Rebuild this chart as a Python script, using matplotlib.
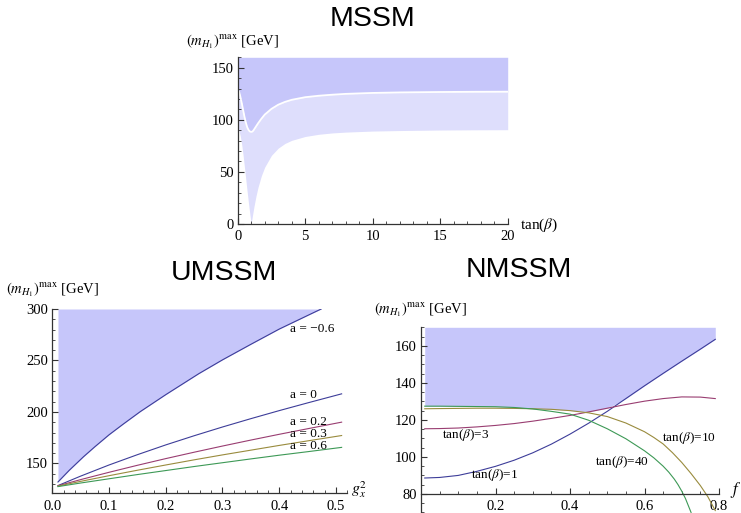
import numpy as np
import matplotlib
matplotlib.use("Agg")
import matplotlib.pyplot as plt
from matplotlib.ticker import MultipleLocator, FixedLocator, FormatStrFormatter

plt.rcParams['font.family'] = ['Liberation Serif', 'DejaVu Serif']
plt.rcParams['mathtext.fontset'] = 'stix'

# ---------------- data ----------------
# MSSM panel
mssm_tanb = [0, 0.1, 0.2, 0.3, 0.4, 0.5, 0.6, 0.7, 0.8, 0.9, 1.0, 1.1, 1.2, 1.35,
             1.5, 1.75, 2.0, 2.5, 3, 3.5, 4, 5, 6, 7, 8, 10, 12, 15, 17.5, 20]
mssm_upper = [128.5, 127, 122, 116, 109.5, 103, 97.5, 93, 90.3, 88.8, 88.4, 88.8, 90.5, 93.5,
              96.5, 101, 105, 110.5, 114.5, 117.2, 119.2, 121.7, 123.1, 124.1, 124.9, 125.8,
              126.3, 126.7, 126.9, 127]
mssm_lower = [91, 89.2, 84, 76, 65.9, 54.6, 42.8, 31.2, 20, 9.6, 0, 8.6, 16.4, 26.5,
              35, 46.2, 54.6, 65.9, 72.8, 77.3, 80.3, 84, 86.1, 87.4, 88.2, 89.2,
              89.7, 90.2, 90.4, 90.5]
mssm_top = 160

# UMSSM panel
umssm_gx_m06 = [0.01, 0.03, 0.055, 0.075, 0.1, 0.125, 0.155, 0.2, 0.23, 0.258, 0.3, 0.35,
                0.4, 0.45, 0.474]
umssm_a_m06 = [132, 143.4, 156.5, 166.2, 177.8, 188.2, 200.3, 216.8, 227.3, 237.1, 250.6,
               265.7, 280.5, 293.7, 300]
umssm_gx = [0.01, 0.05, 0.1, 0.15, 0.2, 0.25, 0.3, 0.35, 0.4, 0.45, 0.51]
umssm_a_0 = [128.5, 137.7, 148.5, 158.5, 168, 176.9, 185.4, 193.5, 201.3, 208.8, 217.6]
umssm_a_02 = [128.3, 134.3, 141.4, 148.2, 154.7, 160.9, 166.9, 172.7, 178.3, 183.7, 190.1]
umssm_a_03 = [128.0, 132.6, 138.1, 143.4, 148.5, 153.5, 158.3, 162.9, 167.5, 171.9, 177.1]
umssm_a_06 = [127.5, 131.0, 135.1, 139.2, 143.1, 147.0, 150.7, 154.4, 158.0, 161.4, 165.6]
umssm_labels = ['a = \u22120.6', 'a = 0', 'a = 0.2', 'a = 0.3', 'a = 0.6']
umssm_top = 300

# NMSSM panel
nmssm_f = [0.01, 0.05, 0.1, 0.15, 0.2, 0.25, 0.3, 0.35, 0.4, 0.45, 0.5, 0.55, 0.6,
           0.65, 0.7, 0.75, 0.79]
nmssm_tb1 = [88.6, 88.9, 90, 92.2, 94.9, 98.2, 102.2, 106.9, 112.3, 118.2, 124.6, 131.5,
             138.4, 145.1, 151.7, 158.2, 163.5]
nmssm_tb3 = [115.2, 115.3, 115.6, 116.2, 117, 118, 119.3, 120.8, 122.4, 124.3, 126.3,
             128.3, 130.1, 131.5, 132.4, 132.3, 131.5]
nmssm_f_tb10 = [0.01, 0.05, 0.1, 0.15, 0.2, 0.25, 0.3, 0.35, 0.4, 0.45, 0.5, 0.55, 0.6,
                0.625, 0.65, 0.675, 0.7, 0.725, 0.75, 0.77, 0.79]
nmssm_tb10 = [126.0, 126.1, 126.2, 126.3, 126.3, 126.2, 126.0, 125.7, 125.0, 123.8, 121.8,
              118.3, 113.6, 110.5, 107, 102.3, 97, 91, 84.5, 78.5, 71]
nmssm_f_tb40 = [0.01, 0.05, 0.1, 0.15, 0.2, 0.25, 0.3, 0.35, 0.4, 0.45, 0.5, 0.55, 0.6,
                0.625, 0.65, 0.665, 0.68, 0.69, 0.7, 0.71, 0.725]
nmssm_tb40 = [127.4, 127.4, 127.3, 127.2, 127.1, 126.7, 125.9, 124.6, 123.1, 119.8, 115.2,
              109.8, 103.3, 99.5, 95, 91.8, 88, 85, 81.5, 77.5, 70]
nmssm_top = 170

titles = ['MSSM', 'UMSSM', 'NMSSM']
ylabel_txt = r'$(m_{H_1})^{\rm max}$ [GeV]'

# ---------------- style ----------------
W, H = 741, 513
FILL = '#C6C6FA'
FILL_LIGHT = '#DEDEFC'
C_NAVY = '#3D3D99'
C_MAG = '#993D71'
C_GOLD = '#998B3D'
C_GREEN = '#3D9956'
AX = '#333333'

fig = plt.figure(figsize=(W / 100, H / 100), dpi=100)


def rect(x0, y_top, x1, y_bot):
    return [x0 / W, 1 - y_bot / H, (x1 - x0) / W, (y_bot - y_top) / H]


def px(x, y):
    return x / W, 1 - y / H


def style(ax):
    for s in ['top', 'right']:
        ax.spines[s].set_visible(False)
    for s in ['left', 'bottom']:
        ax.spines[s].set_color(AX)
        ax.spines[s].set_linewidth(0.9)
    ax.tick_params(which='both', direction='in', colors=AX, labelcolor='black',
                   labelsize=10.5, top=False, right=False)
    ax.tick_params(which='major', length=4, width=0.8, pad=3)
    ax.tick_params(axis='x', which='major', pad=4.5)
    ax.tick_params(which='minor', length=2.2, width=0.6)
    ax.set_facecolor('none')


# ---- MSSM ----
ax1 = fig.add_axes(rect(237.7, 57.3, 507.7, 224))
ax1.fill_between(mssm_tanb, mssm_upper, mssm_top, color=FILL, lw=0)
ax1.fill_between(mssm_tanb, mssm_lower, mssm_upper, color=FILL_LIGHT, lw=0)
ax1.plot(mssm_tanb, mssm_upper, color='white', lw=1.3)
ax1.set_xlim(0, 20)
ax1.set_ylim(0, 160)
ax1.xaxis.set_major_locator(FixedLocator([0, 5, 10, 15, 20]))
ax1.xaxis.set_minor_locator(MultipleLocator(1))
ax1.yaxis.set_major_locator(FixedLocator([0, 50, 100, 150]))
ax1.yaxis.set_minor_locator(MultipleLocator(10))
style(ax1)
fig.text(*px(520, 225), r'tan($\beta$)', fontsize=11, ha='left', va='center')
fig.text(*px(186, 42), ylabel_txt, fontsize=10.5, ha='left', va='center')
fig.text(*px(373, 19), titles[0], fontsize=20.5, family='Liberation Sans', ha='center', va='center')

# ---- UMSSM ----
ax2 = fig.add_axes(rect(52.3, 309, 347.3, 493.3))
ax2.fill_between(umssm_gx_m06, umssm_a_m06, umssm_top, color=FILL, lw=0)
ax2.plot(umssm_gx_m06, umssm_a_m06, color=C_NAVY, lw=0.8)
ax2.plot(umssm_gx, umssm_a_0, color=C_NAVY, lw=0.8)
ax2.plot(umssm_gx, umssm_a_02, color=C_MAG, lw=0.8)
ax2.plot(umssm_gx, umssm_a_03, color=C_GOLD, lw=0.8)
ax2.plot(umssm_gx, umssm_a_06, color=C_GREEN, lw=0.8)
ax2.set_xlim(0, 0.52)
ax2.set_ylim(121, 300)
ax2.xaxis.set_major_locator(FixedLocator([0.0, 0.1, 0.2, 0.3, 0.4, 0.5]))
ax2.xaxis.set_major_formatter(FormatStrFormatter('%.1f'))
ax2.xaxis.set_minor_locator(MultipleLocator(0.02))
ax2.yaxis.set_major_locator(FixedLocator([150, 200, 250, 300]))
ax2.yaxis.set_minor_locator(MultipleLocator(10))
style(ax2)
lab_y = [280.3, 216.4, 189.9, 178.5, 167.1]
for t, yy in zip(umssm_labels, lab_y):
    ax2.text(0.419, yy, t, fontsize=9.5, ha='left', va='center')
fig.text(*px(351, 490), r'$g_x^2$', fontsize=11.5, ha='left', va='center')
fig.text(*px(6, 290), ylabel_txt, fontsize=10.5, ha='left', va='center')
fig.text(*px(224, 273), titles[1], fontsize=20.5, family='Liberation Sans', ha='center', va='center')

# ---- NMSSM ----
ax3 = fig.add_axes(rect(421, 327.3, 719, 513))
tb10_i = np.interp(nmssm_f, nmssm_f_tb10, nmssm_tb10)
tb40_i = np.interp(nmssm_f, nmssm_f_tb40, nmssm_tb40)
low = np.maximum.reduce([np.array(nmssm_tb1), np.array(nmssm_tb3), tb10_i, tb40_i])
ax3.fill_between(nmssm_f, low, nmssm_top, color=FILL, lw=0)
ax3.plot(nmssm_f, nmssm_tb1, color=C_NAVY, lw=0.8)
ax3.plot(nmssm_f, nmssm_tb3, color=C_MAG, lw=0.8)
ax3.plot(nmssm_f_tb10, nmssm_tb10, color=C_GOLD, lw=0.8)
ax3.plot(nmssm_f_tb40, nmssm_tb40, color=C_GREEN, lw=0.8)
ax3.set_xlim(0, 0.8)
ax3.set_ylim(69.7, 170)
ax3.spines['bottom'].set_position(('data', 80))
ax3.xaxis.set_major_locator(FixedLocator([0.2, 0.4, 0.6, 0.8]))
ax3.xaxis.set_major_formatter(FormatStrFormatter('%.1f'))
ax3.xaxis.set_minor_locator(MultipleLocator(0.05))
ax3.yaxis.set_major_locator(FixedLocator([80, 100, 120, 140, 160]))
ax3.yaxis.set_minor_locator(MultipleLocator(5))
style(ax3)
ax3.text(0.12, 112, r'tan($\beta$)=3', fontsize=9.5, ha='center', va='center')
ax3.text(0.198, 90.3, r'tan($\beta$)=1', fontsize=9.5, ha='center', va='center')
ax3.text(0.72, 110.3, r'tan($\beta$)=10', fontsize=9.5, ha='center', va='center')
ax3.text(0.54, 97, r'tan($\beta$)=40', fontsize=9.5, ha='center', va='center')
fig.text(*px(730, 490), r'$f$', fontsize=12, ha='left', va='center')
fig.text(*px(374, 310), ylabel_txt, fontsize=10.5, ha='left', va='center')
fig.text(*px(519, 270), titles[2], fontsize=20.5, family='Liberation Sans', ha='center', va='center')

fig.savefig('out.png', dpi=100)
